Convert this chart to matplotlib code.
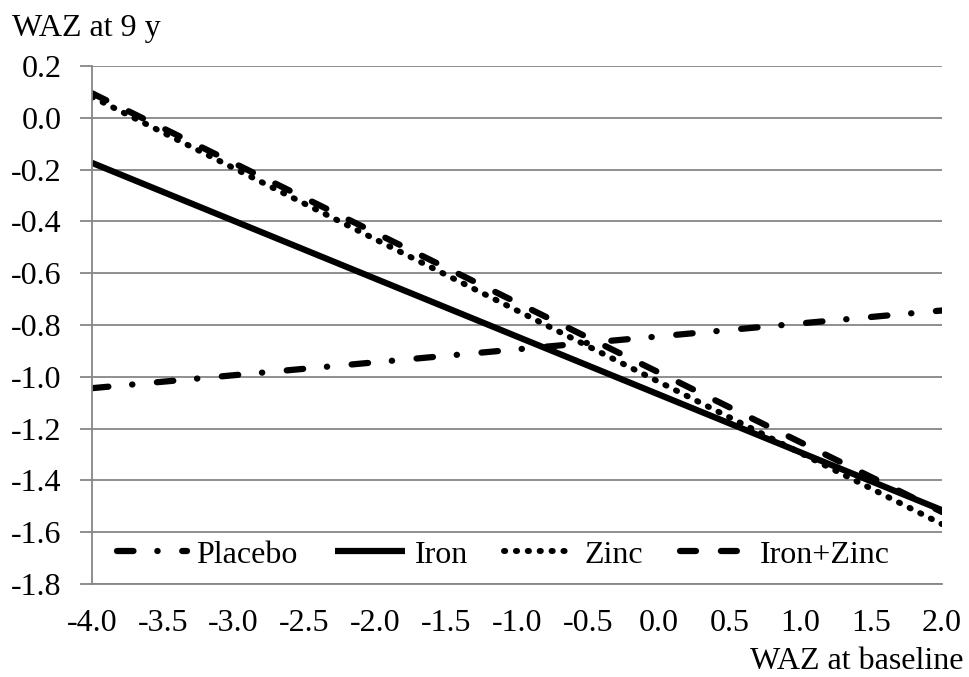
import matplotlib
matplotlib.use("Agg")
import matplotlib.pyplot as plt
import numpy as np

plt.rcParams['font.family'] = ['Liberation Serif', 'DejaVu Serif']

x_ends = [-4.0, 2.0]
placebo = [-1.044, -0.744]
iron = [-0.174, -1.515]
zinc = [0.081, -1.569]
iron_zinc = [0.095, -1.522]
series_names = ["Placebo", "Iron", "Zinc", "Iron+Zinc"]
x_tick_vals = [-4.0, -3.5, -3.0, -2.5, -2.0, -1.5, -1.0, -0.5, 0.0, 0.5, 1.0, 1.5, 2.0]
y_tick_vals = [0.2, 0.0, -0.2, -0.4, -0.6, -0.8, -1.0, -1.2, -1.4, -1.6, -1.8]

FS = 23
fig = plt.figure(figsize=(9.69, 6.77), dpi=100)
ax = fig.add_axes([0.0949, 0.1374, 0.8772, 0.7651])

grey = '#868686'
lw = 4.5
ax.plot(x_ends, placebo, color='black', lw=lw, solid_capstyle='round',
        dash_capstyle='round', dashes=(2.64, 3.81, 0.05, 3.93), label=series_names[0])
ax.plot(x_ends, iron, color='black', lw=lw, solid_capstyle='butt', label=series_names[1])
ax.plot(x_ends, zinc, color='black', lw=4.3, dash_capstyle='round',
        dashes=(0.2, 1.79), label=series_names[2])
ax.plot(x_ends, iron_zinc, color='black', lw=lw, dash_capstyle='round',
        dashes=(2.56, 3.98), label=series_names[3])

ax.set_xlim(-4.0, 2.0)
ax.set_ylim(-1.8, 0.2)

ax.set_yticks(y_tick_vals)
ax.set_yticklabels([f"{v:.1f}" for v in y_tick_vals])
ax.set_xticks(x_tick_vals)
ax.set_xticklabels([f"{v:.1f}" for v in x_tick_vals])
ax.set_xticks(np.arange(-4, 3, 1), minor=True)

ax.tick_params(axis='x', which='major', length=0, pad=18, labelsize=FS)
ax.tick_params(axis='x', which='minor', length=9, width=1.3, color=grey)
ax.tick_params(axis='y', which='major', length=9, width=1.3, color=grey, pad=13, labelsize=FS)

ax.grid(axis='y', color=grey, lw=1.3)
ax.set_axisbelow(True)
for s in ['top', 'right']:
    ax.spines[s].set_visible(False)
for s in ['left', 'bottom']:
    ax.spines[s].set_color(grey)
    ax.spines[s].set_linewidth(1.3)

leg = ax.legend(loc='center left', bbox_to_anchor=(0.029, 0.056), ncol=4, frameon=False,
                fontsize=FS, handlelength=2.2, handletextpad=0.3, columnspacing=1.15,
                borderpad=0, borderaxespad=0)

fig.text(12 / 969, 1 - 36 / 677, "WAZ at 9 y", fontsize=FS, ha='left', va='baseline')
fig.text(964 / 969, 1 - 669 / 677, "WAZ at baseline", fontsize=FS, ha='right', va='baseline')

fig.savefig("out.png", dpi=100)
